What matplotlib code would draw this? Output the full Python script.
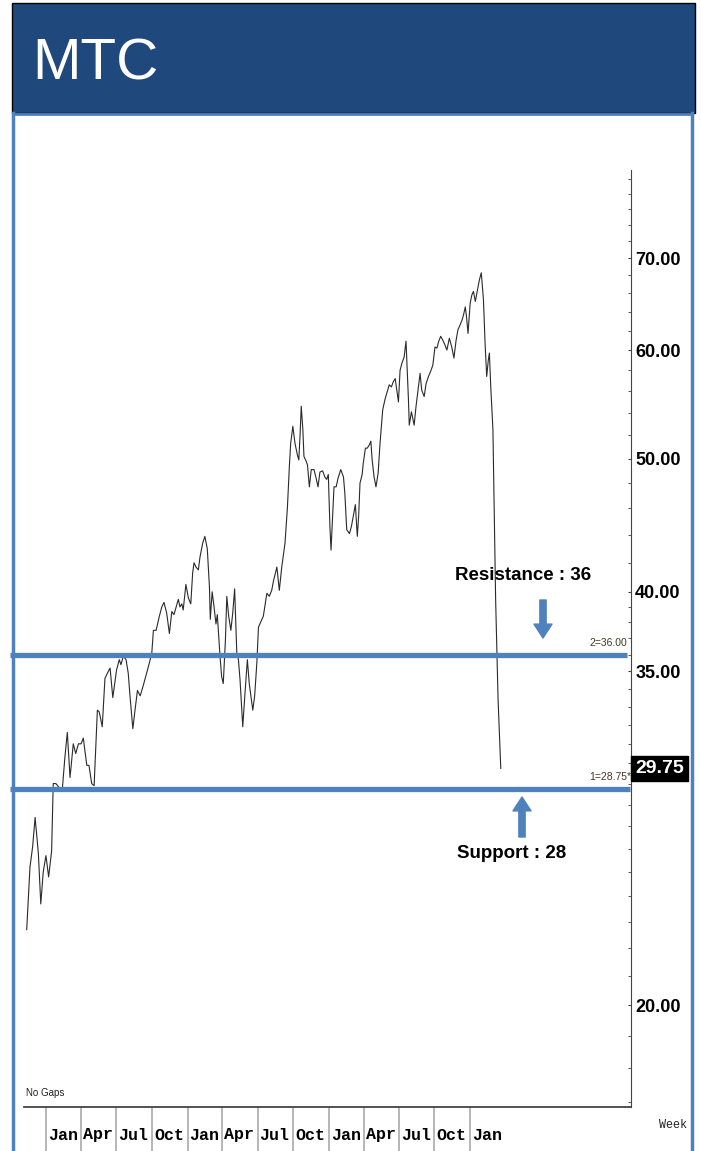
## MTC weekly close with support / resistance levels
import numpy as np
import pandas as pd
import matplotlib
matplotlib.use("Agg")
from matplotlib import pyplot as plt
from matplotlib import transforms
from matplotlib.patches import Rectangle
from matplotlib.lines import Line2D
from matplotlib.ticker import FixedLocator, FixedFormatter, NullFormatter

## price path, position in weeks from the first bar
weeks = [0, 1.2, 2.2, 3.1, 4.3, 5.2, 6.1, 7.1, 8.1, 9.2, 9.8, 10.8, 12.0, 13.2, 14.1, 15.0, 16.0, 17.2, 18.1, 19.1,
         20.1, 20.9, 22.2, 23.0, 24.0, 24.9, 26.1, 26.8, 27.9, 28.9, 29.8, 30.8, 31.8, 33.2, 34.2, 34.8, 35.7, 36.7, 37.5, 38.2,
         39.2, 40.0, 40.9, 41.9, 42.9, 44.1, 45.3, 46.2, 46.8, 47.8, 49.0, 49.9, 50.7, 51.7, 52.7, 53.6, 54.4, 55.2, 56.0, 56.6,
         57.3, 57.8, 58.8, 59.7, 60.6, 61.3, 61.8, 62.5, 63.4, 64.0, 65.0, 65.8, 66.7, 67.5, 67.8, 68.5, 69.2, 69.9, 70.4, 71.4,
         72.0, 72.6, 73.4, 73.9, 74.6, 75.4, 76.1, 76.8, 77.6, 78.2, 78.8, 79.8, 80.6, 81.5, 82.2, 82.7, 83.5, 84.2, 85.0, 85.6,
         87.4, 88.7, 89.6, 90.5, 91.1, 92.4, 93.3, 94.2,
         95.4, 96.3, 97.0, 97.5, 98.3, 99.1, 100.0, 100.5, 101.0, 101.4, 102.0, 102.4, 103.2, 103.7, 104.4, 105.1, 106.1, 106.9,
         107.6, 108.3, 109.3, 110.1, 110.8, 111.4, 112.0, 112.4, 113.0, 113.5, 114.3, 115.0, 116.0, 117.0, 117.5, 118.2, 119.2,
         119.9, 120.6, 121.4, 122.1, 122.6, 123.1, 123.9, 124.3, 125.1, 125.8, 126.6, 127.1, 127.6, 128.3, 129.0, 129.8, 130.5,
         131.5, 132.4, 133.2, 133.9, 134.7, 135.4, 136.1, 136.7, 137.3, 137.9, 138.6, 139.4, 140.1, 140.6, 141.0, 141.3, 142.1,
         143.1, 143.8, 144.4, 145.3, 145.9, 146.8, 147.5, 148.4, 149.2, 150.0, 150.8, 151.5, 152.2, 152.9, 153.7, 154.5, 155.2,
         156.1, 157.0, 157.8, 158.6, 159.3, 160.1, 160.8, 161.3, 162.0, 162.5, 163.0, 163.8, 164.4, 165.0, 165.7, 166.5, 167.2,
         167.9, 168.7, 169.3, 169.9, 170.5, 170.9, 171.4, 172.2, 173.2, 174.1, 175.1]
close = [22.7, 25.2, 26.1, 27.4, 25.8, 23.7, 25.0, 25.7, 24.8, 25.9, 29.0, 29.0, 28.8, 28.8, 30.3, 31.6, 29.3, 31.0, 30.5, 31.0,
         31.0, 31.3, 29.9, 29.9, 29.0, 28.9, 32.8, 32.7, 31.9, 34.6, 34.9, 35.2, 33.5, 35.1, 35.7, 35.4, 35.9, 35.7, 34.9, 33.5,
         31.8, 32.8, 33.9, 33.6, 34.1, 34.8, 35.5, 36.1, 37.5, 37.5, 38.4, 39.0, 39.3, 38.6, 37.3, 38.7, 38.5, 39.0, 39.5, 39.0,
         39.2, 38.8, 40.5, 39.6, 39.2, 41.3, 42.0, 41.7, 41.5, 42.4, 43.4, 43.9, 43.0, 40.3, 38.2, 40.0, 39.0, 37.9, 38.5, 35.9,
         34.7, 34.3, 36.9, 39.7, 38.4, 37.5, 38.6, 40.2, 36.1, 35.7, 34.5, 31.9, 33.7, 35.7, 34.3, 33.7, 32.8, 33.6, 35.5, 37.7,
         38.4, 39.9, 39.7, 40.1, 40.7, 41.7, 40.1, 41.7,
         43.4, 46.1, 49.3, 51.3, 52.8, 51.3, 50.3, 49.9, 52.2, 54.6, 52.5, 50.2, 49.8, 49.5, 47.7, 49.1, 49.1, 48.4,
         47.7, 48.9, 49.0, 48.5, 48.3, 48.7, 44.6, 42.9, 45.4, 47.7, 47.7, 48.4, 49.1, 48.5, 47.2, 44.4, 44.1,
         44.6, 45.4, 46.3, 43.9, 45.4, 48.0, 48.7, 49.6, 50.9, 50.9, 51.2, 51.5, 49.9, 48.5, 47.7, 48.8, 51.3,
         54.3, 55.3, 56.0, 56.6, 56.4, 56.9, 57.2, 56.1, 55.0, 58.0, 58.7, 59.3, 60.9, 57.7, 55.2, 52.9, 54.1,
         52.9, 54.6, 55.8, 57.7, 56.1, 55.5, 56.7, 57.4, 57.9, 58.5, 60.3, 60.2, 60.9, 61.4, 61.0, 60.5, 60.0,
         61.2, 60.3, 59.2, 61.0, 62.1, 62.6, 63.1, 63.6, 64.5, 63.3, 61.7, 64.9, 65.8, 66.2, 65.1, 66.4, 67.5,
         68.3, 65.3, 60.7, 57.4, 59.0, 59.7, 56.4, 52.5, 39.5, 33.4, 29.75]

start = pd.Timestamp("2016-11-11")
quarters = pd.date_range("2017-01-01", "2020-01-01", freq="QS")
quarter_labels = [d.strftime("%b") for d in quarters]
price_ticks = [20, 35, 40, 50, 60, 70]
price_labels = ["20.00", "35.00", "40.00", "50.00", "60.00", "70.00"]
minor_ticks = [p for p in list(range(17, 40)) + list(range(42, 82, 2)) if p not in price_ticks]
resistance = 36.0
support = 28.75
last_price = 29.75

BLUE = "#4F81BD"
NAVY = "#1F497D"
W, H = 701, 1151

def fx(px):
    return px / W

def fy(py):
    return 1 - py / H

fig = plt.figure(figsize=(W / 100, H / 100), dpi=100)

## frame and header
fig.add_artist(Line2D([fx(13), fx(13)], [fy(113), 0], color=BLUE, lw=2.5))
fig.add_artist(Line2D([fx(692), fx(692)], [fy(113), 0], color=BLUE, lw=2.5))
fig.add_artist(Line2D([fx(13), fx(692)], [fy(114), fy(114)], color=BLUE, lw=2))
fig.add_artist(Rectangle((fx(12), fy(113)), fx(695) - fx(12), fy(3) - fy(113),
                         transform=fig.transFigure, fc=NAVY, ec="black", lw=1))
fig.text(fx(32), fy(80), "MTC", color="white", fontsize=42, va="baseline",
         family="Liberation Sans")

## price panel
ax = fig.add_axes([fx(24), fy(1107), fx(631) - fx(24), fy(170) - fy(1107)])
ax.plot(weeks, close, color="#2a2a2a", lw=0.8)
ax.set_yscale("log")
ax.set_xlim(-1.0, 223.2)
ax.set_ylim(16.86, 81.15)

for s in ["top", "left"]:
    ax.spines[s].set_visible(False)
ax.spines["right"].set_color("#444444")
ax.spines["bottom"].set_color("#444444")
ax.spines["bottom"].set_linewidth(1.3)

sans = "Liberation Sans"
ax.yaxis.tick_right()
ax.yaxis.set_major_locator(FixedLocator(price_ticks))
ax.yaxis.set_major_formatter(FixedFormatter(price_labels))
ax.yaxis.set_minor_locator(FixedLocator(minor_ticks))
ax.yaxis.set_minor_formatter(NullFormatter())
ax.tick_params(axis="y", which="both", direction="in", length=2.5, color="#444444", pad=3)
for lab in ax.get_yticklabels():
    lab.set_family(sans)
    lab.set_fontsize(13)
    lab.set_fontweight("bold")

qpos = [(d - start).days / 7 for d in quarters]
ax.set_xticks(qpos)
ax.tick_params(axis="x", length=32, width=1.2, color="#aaaaaa", labelbottom=False)
tr = transforms.blended_transform_factory(ax.transData, fig.transFigure)
shift = transforms.ScaledTranslation(2 / 100, 0, fig.dpi_scale_trans)
for p, lab in zip(qpos, quarter_labels):
    ax.text(p, fy(1135), lab, transform=tr + shift, ha="left", va="center",
            fontsize=12, fontweight="bold", family="Liberation Mono", clip_on=False)

## support / resistance
hl = transforms.blended_transform_factory(fig.transFigure, ax.transData)
ax.plot([fx(10), fx(627)], [resistance, resistance], transform=hl, color=BLUE, lw=3.8,
        clip_on=False, solid_capstyle="butt")
ax.plot([fx(10), fx(630)], [support, support], transform=hl, color=BLUE, lw=3.8,
        clip_on=False, solid_capstyle="butt")
up = transforms.ScaledTranslation(0, 5 / 72, fig.dpi_scale_trans)
ax.text(fx(627), resistance, "2=36.00", transform=hl + up, ha="right", va="bottom",
        fontsize=7.5, color="#4a3520", family=sans)
ax.text(fx(631), support, "1=28.75*", transform=hl + up, ha="right", va="bottom",
        fontsize=7.5, color="#4a3520", family=sans)

lt = transforms.blended_transform_factory(ax.transAxes, ax.transData)
rshift = transforms.ScaledTranslation(4 / 100, 0, fig.dpi_scale_trans)
ax.text(1.0, last_price, "29.75", transform=lt + rshift, ha="left", va="center", color="white",
        fontsize=14, fontweight="bold", family=sans,
        bbox=dict(boxstyle="square,pad=0.22", fc="black", ec="black"))

fig.text(fx(523), fy(575), "Resistance : 36", ha="center", va="center", fontsize=13.5,
         fontweight="bold", family=sans)
fig.text(fx(512), fy(853), "Support : 28", ha="center", va="center", fontsize=13.5,
         fontweight="bold", family=sans)
arrow = dict(arrowstyle="simple,head_width=1.3,head_length=1.0,tail_width=0.45",
             color=BLUE, shrinkA=0, shrinkB=0)
ax.annotate("", xy=(543, H - 638), xytext=(543, H - 600), xycoords="figure pixels",
            textcoords="figure pixels", arrowprops=arrow)
ax.annotate("", xy=(522, H - 797), xytext=(522, H - 837), xycoords="figure pixels",
            textcoords="figure pixels", arrowprops=arrow)

fig.text(fx(26), fy(1093), "No Gaps", fontsize=7, va="center", ha="left",
         family=sans, color="#222222")
fig.text(fx(659), fy(1125), "Week", fontsize=8.5, va="center", ha="left",
         family="Liberation Mono", color="#222222")

plt.savefig("out.png", dpi=100)
